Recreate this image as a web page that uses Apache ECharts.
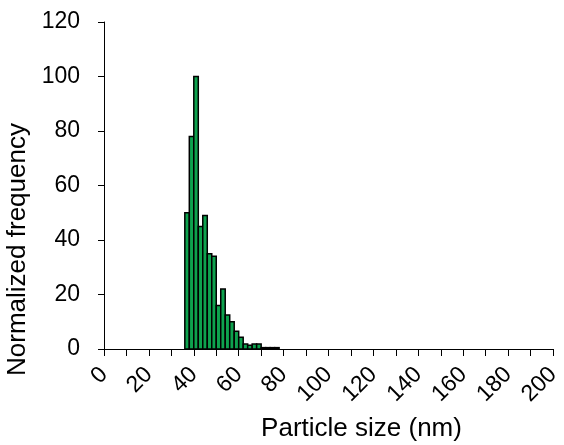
<!DOCTYPE html>
<html>
<head>
<meta charset="utf-8">
<title>Particle size distribution</title>
<script src="https://cdn.jsdelivr.net/npm/echarts@6/dist/echarts.min.js"></script>
<style>
  html, body { margin: 0; padding: 0; background: #fff; }
  #chart { width: 564px; height: 445px; }
</style>
</head>
<body>
<div id="chart"></div>
<script>
// Histogram bins: left edge of each 2 nm bin (nm)
const binStarts = [36, 38, 40, 42, 44, 46, 48, 50, 52, 54, 56, 58, 60, 62, 64, 66, 68, 70, 72, 74, 76];
// Normalized frequency of each bin
const frequencies = [50, 78, 100, 45, 49, 35, 34, 16, 22, 12.5, 10, 6.5, 4.3, 1.8, 1.4, 1.8, 1.8, 0.5, 0.5, 0.5, 0.5];
const binWidth = 2;
// Axis ranges and tick labels
const xTicks = [0, 20, 40, 60, 80, 100, 120, 140, 160, 180, 200];
const yTicks = [0, 20, 40, 60, 80, 100, 120];

const font = '"Liberation Sans", Arial, sans-serif';
const chart = echarts.init(document.getElementById('chart'), null, { renderer: 'canvas' });

chart.setOption({
  animation: false,
  backgroundColor: '#ffffff',
  grid: { left: 104, right: 11, top: 22, bottom: 96, containLabel: false, outerBoundsMode: 'none' },
  xAxis: {
    type: 'value',
    min: xTicks[0],
    max: xTicks[xTicks.length - 1],
    interval: 10,
    name: 'Particle size (nm)',
    nameLocation: 'middle',
    nameGap: 67,
    nameTextStyle: { fontFamily: font, fontSize: 26, color: '#000', padding: [0, 0, 0, 66] },
    axisLine: { show: true, lineStyle: { color: '#000', width: 1 } },
    axisTick: { show: true, inside: false, length: 7, lineStyle: { color: '#000' } },
    axisLabel: {
      rotate: 45,
      margin: 22,
      fontFamily: font,
      fontSize: 23,
      color: '#000',
      formatter: v => (xTicks.indexOf(v) >= 0 ? String(v) : '')
    },
    splitLine: { show: false }
  },
  yAxis: {
    type: 'value',
    min: yTicks[0],
    max: yTicks[yTicks.length - 1],
    interval: 20,
    name: 'Normalized frequency',
    nameLocation: 'middle',
    nameGap: 58,
    nameTextStyle: { fontFamily: font, fontSize: 26, color: '#000', padding: [0, 128, 0, 0] },
    axisLine: { show: true, lineStyle: { color: '#000', width: 1 } },
    axisTick: { show: true, inside: false, length: 6, lineStyle: { color: '#000' } },
    axisLabel: { margin: 24, fontFamily: font, fontSize: 23, color: '#000' },
    splitLine: { show: false }
  },
  series: [{
    type: 'custom',
    data: binStarts.map((s, i) => [s, frequencies[i]]),
    encode: { x: 0, y: 1 },
    renderItem: function (params, api) {
      const x0 = api.value(0);
      const h = api.value(1);
      const p0 = api.coord([x0, 0]);
      const p1 = api.coord([x0 + binWidth, h]);
      return {
        type: 'rect',
        shape: { x: p0[0], y: p1[1], width: p1[0] - p0[0], height: p0[1] - p1[1] },
        style: { fill: '#0ea24e', stroke: '#000', lineWidth: 1.5 }
      };
    }
  }]
});
</script>
</body>
</html>
